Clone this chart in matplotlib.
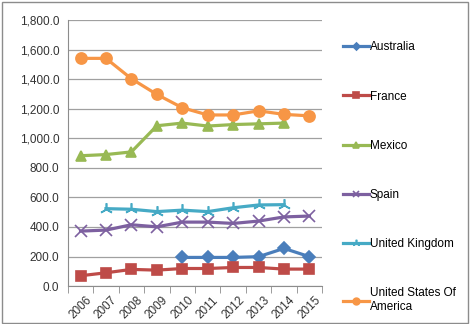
import matplotlib.pyplot as plt
import numpy as np
from matplotlib.ticker import FuncFormatter

plt.rcParams['font.family'] = ['Liberation Sans', 'DejaVu Sans']

years = ["2006", "2007", "2008", "2009", "2010", "2011", "2012", "2013", "2014", "2015"]
australia = [None, None, None, None, 194, 194, 194, 199, 255, 199]
france = [70, 90, 113, 108, 119, 119, 126, 126, 115, 115]
mexico = [882, 890, 908, 1085, 1103, 1083, 1093, 1098, 1103, None]
spain = [372, 379, 415, 401, 433, 433, 424, 440, 468, 474]
uk = [None, 524, 520, 504, 514, 504, 530, 549, 551, None]
usa = [1541, 1541, 1403, 1297, 1207, 1158, 1158, 1186, 1162, 1152]

SERIES = [
    ("Australia", australia, "#4A7EBB", "D", 6),
    ("France", france, "#BE4B48", "s", 7),
    ("Mexico", mexico, "#98B954", "^", 7),
    ("Spain", spain, "#7D60A0", "x", 8),
    ("United Kingdom", uk, "#46AAC5", (3, 2, 0), 9),
    ("United States Of\nAmerica", usa, "#F79646", "o", 8),
]


def to_arr(vals):
    return np.array([np.nan if v is None else v for v in vals], dtype=float)


fig = plt.figure(figsize=(4.71, 3.24), dpi=100)
ax = fig.add_axes([0.144, 0.117, 0.540, 0.821])

x = np.arange(len(years))
for name, vals, color, marker, ms in SERIES:
    ax.plot(x, to_arr(vals), color=color, lw=2.3, marker=marker, ms=ms,
            mew=1.2, mec=color, mfc=color, label=name)

ax.set_xlim(-0.5, len(years) - 0.5)
ax.set_ylim(0, 1800)
ax.set_yticks(np.arange(0, 1801, 200))
ax.yaxis.set_major_formatter(FuncFormatter(lambda v, p: "{:,.1f}".format(v)))
ax.yaxis.grid(True, color="#a0a0a0", lw=0.9)
ax.set_axisbelow(True)

ax.set_xticks(x)
ax.set_xticklabels(years, rotation=45, ha="center", fontsize=8.5)
ax.set_xticks(np.arange(-0.5, len(years), 1), minor=True)
ax.tick_params(axis="x", which="major", length=0, pad=6)
ax.tick_params(axis="x", which="minor", length=5, color="#8c8c8c")
ax.tick_params(axis="y", length=0, labelsize=8.5, pad=6, colors="#333333")
ax.tick_params(axis="x", colors="#333333")

for s in ["top", "right"]:
    ax.spines[s].set_visible(False)
ax.spines["left"].set_color("#8c8c8c")
ax.spines["bottom"].set_color("#8c8c8c")

leg = fig.legend(loc="upper left", bbox_to_anchor=(0.705, 0.905), frameon=False,
                 fontsize=8.5, labelspacing=3.15, handlelength=2.2,
                 handletextpad=0.1, markerscale=0.6)

fig.patches.append(plt.Rectangle((0.004, 0.004), 0.99, 0.99, transform=fig.transFigure,
                                 fill=False, edgecolor="#8c8c8c", lw=1))

fig.savefig("out.png", dpi=100)
